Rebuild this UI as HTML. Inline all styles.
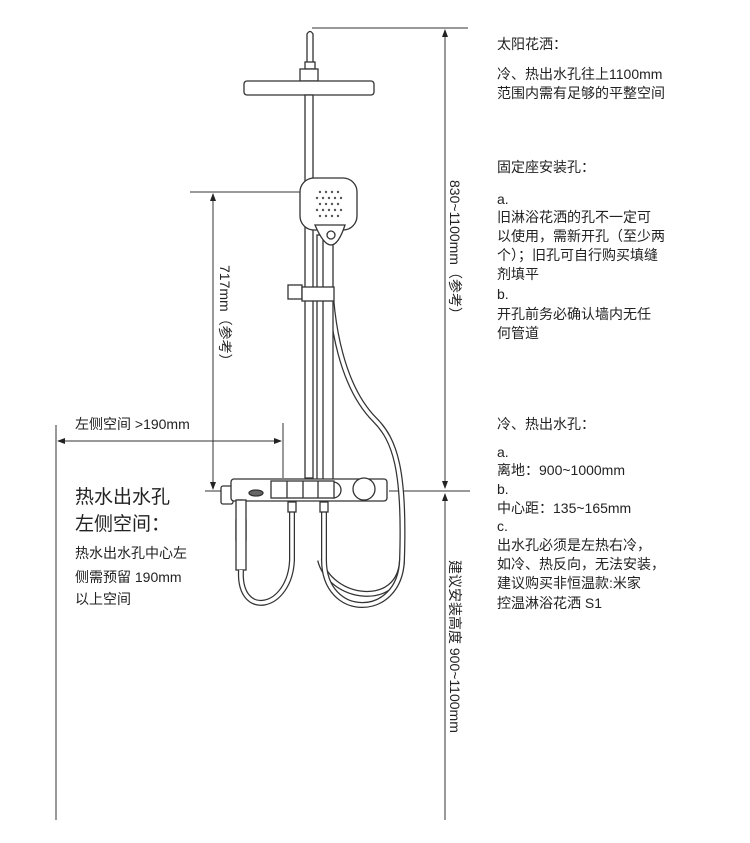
<!DOCTYPE html>
<html><head><meta charset="utf-8"><style>
html,body{margin:0;padding:0;background:#fff;}
svg{display:block}
text{font-family:"Liberation Sans","Noto Sans CJK SC",sans-serif;fill:#222;}
.t{font-size:14px}
</style></head><body>
<svg width="750" height="843" viewBox="0 0 750 843" xmlns="http://www.w3.org/2000/svg">
<defs>
<marker id="a" markerWidth="8" markerHeight="8" refX="7" refY="4" orient="auto-start-reverse" markerUnits="userSpaceOnUse">
<path d="M0,1 L8,4 L0,7 z" fill="#222"/></marker>
</defs>
<g stroke="#333" stroke-width="1" fill="none">
<!-- top dimension -->
<line x1="312" y1="28" x2="468" y2="28"/>
<line x1="445" y1="30" x2="445" y2="488" marker-start="url(#a)" marker-end="url(#a)"/>
<line x1="445" y1="494" x2="445" y2="820" marker-start="url(#a)"/>
<!-- 717 dimension -->
<line x1="190" y1="192" x2="300" y2="192"/>
<line x1="213" y1="194" x2="213" y2="489" marker-start="url(#a)" marker-end="url(#a)"/>
<!-- left dims -->
<line x1="56" y1="425" x2="56" y2="820"/>
<line x1="58" y1="441" x2="281" y2="441" marker-start="url(#a)" marker-end="url(#a)"/>
<line x1="283" y1="423" x2="283" y2="478"/>
<line x1="205" y1="491" x2="240" y2="491"/>
<line x1="389" y1="491" x2="470" y2="491"/>
</g>
<g stroke="#333" stroke-width="1.3" fill="#fff">
<!-- top pipe -->
<path d="M307,62 L307,34 Q310,29 313,34 L313,62"/>
<rect x="305" y="62" width="10" height="7"/>
<rect x="300" y="69" width="18" height="12"/>
<rect x="244" y="81" width="130" height="14" rx="3"/>
<!-- pole -->
<rect x="305" y="95" width="8" height="383"/>
<!-- hose from handheld -->
<path d="M330,250 C328,330 345,390 375,420 C395,440 405,470 402,560 C400,610 330,600 320,560" fill="none" stroke-width="6"/>
<path d="M330,250 C328,330 345,390 375,420 C395,440 405,470 402,560 C400,610 330,600 320,560" fill="none" stroke="#fff" stroke-width="3.5"/>
<!-- handheld -->
<rect x="317" y="235" width="10" height="250"/>
<rect x="323" y="235" width="10" height="250"/>
<rect x="300" y="178" width="57" height="52" rx="14"/>
<path d="M315,225 Q332,265 345,225 Z"/>
<circle cx="331" cy="235" r="4"/>
<!-- slide bracket -->
<rect x="288" y="285" width="14" height="14"/>
<rect x="302" y="287" width="32" height="14"/>
<!-- valve body -->
<rect x="221" y="486" width="12" height="18" rx="2"/>
<rect x="231" y="479" width="156" height="22" rx="3"/>
<circle cx="280" cy="490" r="8"/>
<circle cx="333" cy="490" r="8"/>
<rect x="271" y="481" width="63" height="17"/>
<line x1="287" y1="481" x2="287" y2="498"/><line x1="303" y1="481" x2="303" y2="498"/><line x1="318" y1="481" x2="318" y2="498"/>
<circle cx="364" cy="489" r="11"/>
<ellipse cx="256" cy="493" rx="7" ry="3" fill="#666"/>
<!-- left pipe -->
<path d="M238,501 L238,500 L242,500 L242,520 L236,520 L236,540 L246,540 L246,520 L242,520" />
<rect x="236" y="500" width="10" height="70"/>
<path d="M241,570 C238,620 290,610 292,560 L292,512" fill="none" stroke-width="6"/>
<path d="M241,570 C238,620 290,610 292,560 L292,512" fill="none" stroke="#fff" stroke-width="3.5"/>
<rect x="288" y="502" width="8" height="10"/>
<path d="M324,512 L324,560 C324,620 400,620 402,560" fill="none" stroke-width="6"/>
<path d="M324,512 L324,560 C324,620 400,620 402,560" fill="none" stroke="#fff" stroke-width="3.5"/>
<rect x="320" y="502" width="8" height="10"/>
</g>
<g fill="#555">
<circle cx="320" cy="192" r="1.2"/><circle cx="326" cy="192" r="1.2"/><circle cx="332" cy="192" r="1.2"/><circle cx="338" cy="192" r="1.2"/>
<circle cx="317" cy="198" r="1.2"/><circle cx="323" cy="198" r="1.2"/><circle cx="329" cy="198" r="1.2"/><circle cx="335" cy="198" r="1.2"/><circle cx="341" cy="198" r="1.2"/>
<circle cx="320" cy="204" r="1.2"/><circle cx="326" cy="204" r="1.2"/><circle cx="332" cy="204" r="1.2"/><circle cx="338" cy="204" r="1.2"/>
<circle cx="317" cy="210" r="1.2"/><circle cx="323" cy="210" r="1.2"/><circle cx="329" cy="210" r="1.2"/><circle cx="335" cy="210" r="1.2"/><circle cx="341" cy="210" r="1.2"/>
<circle cx="320" cy="216" r="1.2"/><circle cx="326" cy="216" r="1.2"/><circle cx="332" cy="216" r="1.2"/><circle cx="338" cy="216" r="1.2"/>
</g>
<!-- rotated labels -->
<text class="t" transform="translate(450,180) rotate(90)">830~1100mm（参考）</text>
<text class="t" transform="translate(450,560) rotate(90)">建议安装高度 900~1100mm</text>
<text class="t" transform="translate(220,265) rotate(90)">717mm（参考）</text>
<text class="t" x="75" y="429">左侧空间 &gt;190mm</text>
<text x="75" y="503" style="font-size:19px">热水出水孔</text>
<text x="75" y="530" style="font-size:19px">左侧空间：</text>
<text class="t" x="75" y="558">热水出水孔中心左</text>
<text class="t" x="75" y="582">侧需预留 190mm</text>
<text class="t" x="75" y="604">以上空间</text>
<!-- right column -->
<g class="t">
<text class="t" x="497" y="49">太阳花洒：</text>
<text class="t" x="497" y="79">冷、热出水孔往上1100mm</text>
<text class="t" x="497" y="98">范围内需有足够的平整空间</text>
<text class="t" x="497" y="172">固定座安装孔：</text>
<text class="t" x="497" y="204">a.</text>
<text class="t" x="497" y="222">旧淋浴花洒的孔不一定可</text>
<text class="t" x="497" y="241">以使用，需新开孔（至少两</text>
<text class="t" x="497" y="260">个）；旧孔可自行购买填缝</text>
<text class="t" x="497" y="279">剂填平</text>
<text class="t" x="497" y="299">b.</text>
<text class="t" x="497" y="319">开孔前务必确认墙内无任</text>
<text class="t" x="497" y="338">何管道</text>
<text class="t" x="497" y="429">冷、热出水孔：</text>
<text class="t" x="497" y="457">a.</text>
<text class="t" x="497" y="475">离地：900~1000mm</text>
<text class="t" x="497" y="494">b.</text>
<text class="t" x="497" y="513">中心距：135~165mm</text>
<text class="t" x="497" y="531">c.</text>
<text class="t" x="497" y="550">出水孔必须是左热右冷，</text>
<text class="t" x="497" y="569">如冷、热反向，无法安装，</text>
<text class="t" x="497" y="588">建议购买非恒温款:米家</text>
<text class="t" x="497" y="608">控温淋浴花洒 S1</text>
</g>
</svg>
</body></html>
